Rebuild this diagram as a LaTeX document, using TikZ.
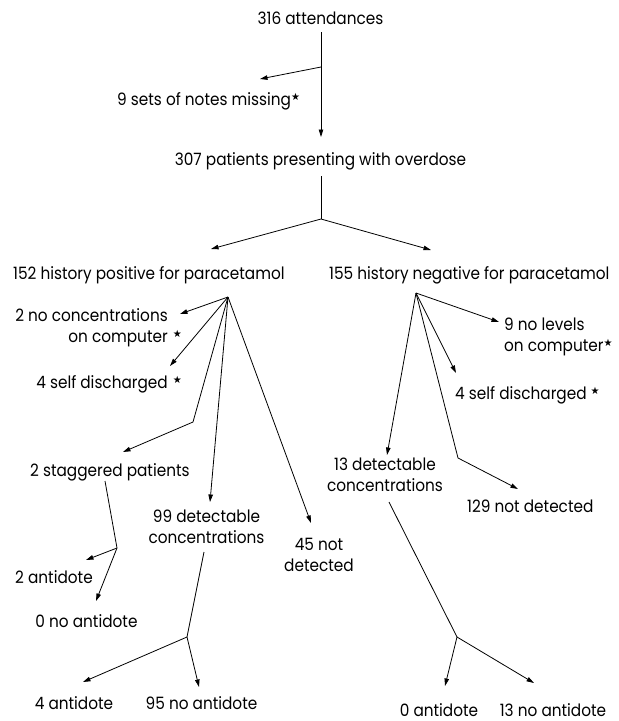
\documentclass[tikz,border=0pt]{standalone}
\usepackage{fontspec}
\setmainfont[FakeStretch=0.9]{Poppins}
\newfontfamily\starfont{DejaVu Sans}
\usetikzlibrary{arrows.meta}
\newcommand\sstar{\smash{\raisebox{4.5pt}{\starfont\fontsize{10}{10}\selectfont ★}}}
\begin{document}
\begin{tikzpicture}[x=1pt,y=-1pt,
  lbl/.style={inner sep=0pt,font=\fontsize{17}{21}\selectfont},
  ln/.style={line width=0.8pt},
  arr/.style={line width=0.8pt,-{Triangle[length=7.5pt,width=4.5pt]}}]
\useasboundingbox (0,0) rectangle (619,721);
% text nodes
\node[lbl,anchor=base] (n316) at (320.5,24) {316 attendances};
\node[lbl,anchor=base west] (nmiss) at (117,105) {9 sets of notes missing\sstar};
\node[lbl,anchor=base] (n307) at (320.5,165) {307 patients presenting with overdose};
\node[lbl,anchor=base west] (npos) at (13,279) {152 history positive for paracetamol};
\node[lbl,anchor=base west] (nneg) at (329,279) {155 history negative for paracetamol};
\node[lbl,anchor=base east,align=right] (nnc) at (168,342) {2 no concentrations\\on computer\rlap{\hspace{5pt}\sstar}};
\node[lbl,anchor=base east] (nsd1) at (168,388) {4 self discharged\rlap{\hspace{5pt}\sstar}};
\node[lbl,anchor=base west] (nstag) at (30,476) {2 staggered patients};
\node[lbl,anchor=base,align=center] (n99) at (206.5,543) {99 detectable\\concentrations};
\node[lbl,anchor=base,align=center] (n45) at (319,571) {45 not\\detected};
\node[lbl,anchor=base] (n2a) at (54,583) {2 antidote};
\node[lbl,anchor=base] (n0na) at (86.5,627) {0 no antidote};
\node[lbl,anchor=base] (n4a) at (74,709) {4 antidote};
\node[lbl,anchor=base] (n95) at (201.5,709) {95 no antidote};
\node[lbl,anchor=base west,align=left] (n9nl) at (504,351) {9 no levels\\on computer\sstar};
\node[lbl,anchor=base west] (nsd2) at (455,399) {4 self discharged\rlap{\hspace{4pt}\sstar}};
\node[lbl,anchor=base,align=center] (n13) at (385,491) {13 detectable\\concentrations};
\node[lbl,anchor=base west] (n129) at (467,512) {129 not detected};
\node[lbl,anchor=base] (n0a) at (439,716) {0 antidote};
\node[lbl,anchor=base] (n13na) at (553,716) {13 no antidote};
% coordinates
\coordinate (s316) at (321,32);
\coordinate (t307) at (321,137);
\coordinate (b1) at (321,67);
\coordinate (tmiss) at (260,79);
\coordinate (s307) at (321,176);
\coordinate (b2) at (321,219);
\coordinate (tpos) at (211,249);
\coordinate (tneg) at (431,250);
\coordinate (P) at (228,297);
\coordinate (tnc) at (180,314);
\coordinate (tsd1) at (170,366);
\coordinate (kst) at (193,422);
\coordinate (tstag) at (123,452);
\coordinate (t99) at (210,502);
\coordinate (t45) at (311,523);
\coordinate (Q) at (416,293);
\coordinate (t9nl) at (499,322);
\coordinate (tsd2) at (456,373);
\coordinate (t13) at (387,455);
\coordinate (k129) at (458,458);
\coordinate (t129) at (518,489);
\coordinate (sst) at (105,481);
\coordinate (bst) at (117,548);
\coordinate (t2a) at (86,560);
\coordinate (t0na) at (96,601);
\coordinate (s99) at (204,552);
\coordinate (b99) at (187,637);
\coordinate (t4a) at (83,682);
\coordinate (t95) at (199,687);
\coordinate (s13) at (389,502);
\coordinate (b13) at (457,637);
\coordinate (t0a) at (445,686);
\coordinate (t13na) at (534,683);
% connectors
\draw[arr] (s316) -- (t307);
\draw[arr] (b1) -- (tmiss);
\draw[ln] (s307) -- (b2);
\draw[arr] (b2) -- (tpos);
\draw[arr] (b2) -- (tneg);
\draw[arr] (P) -- (tnc);
\draw[arr] (P) -- (tsd1);
\draw[arr] (P) -- (kst) -- (tstag);
\draw[arr] (P) -- (t99);
\draw[arr] (P) -- (t45);
\draw[arr] (Q) -- (t9nl);
\draw[arr] (Q) -- (tsd2);
\draw[arr] (Q) -- (t13);
\draw[arr] (Q) -- (k129) -- (t129);
\draw[ln] (sst) -- (bst);
\draw[arr] (bst) -- (t2a);
\draw[arr] (bst) -- (t0na);
\draw[ln] (s99) -- (b99);
\draw[arr] (b99) -- (t4a);
\draw[arr] (b99) -- (t95);
\draw[ln] (s13) -- (b13);
\draw[arr] (b13) -- (t0a);
\draw[arr] (b13) -- (t13na);
\end{tikzpicture}
\end{document}
